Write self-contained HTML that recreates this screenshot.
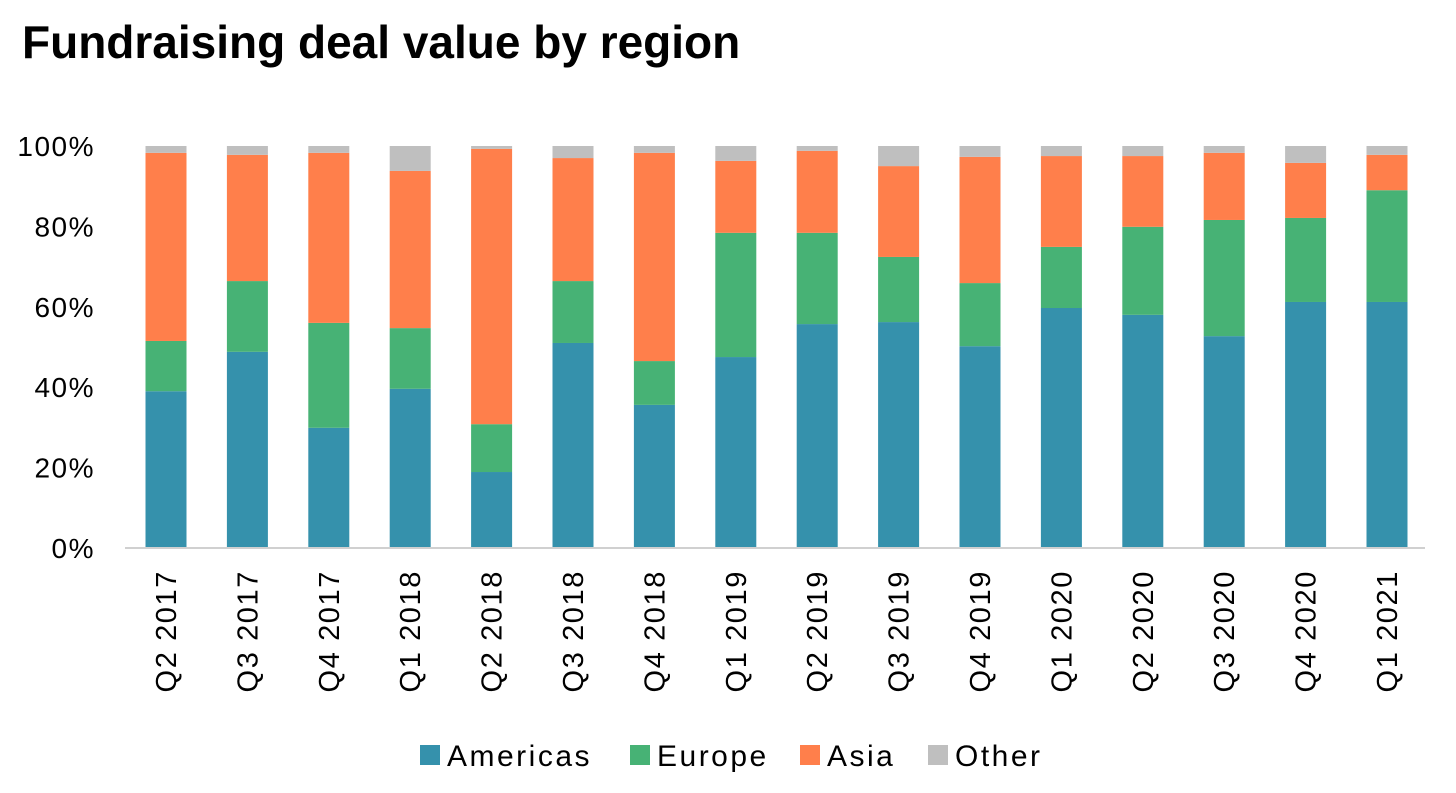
<!DOCTYPE html>
<html><head><meta charset="utf-8"><style>
body{margin:0;background:#fff;width:1456px;height:788px;overflow:hidden;font-family:"Liberation Sans",sans-serif}
</style></head><body>
<svg width="1456" height="788">
<text x="22" y="58" font-size="46" font-weight="bold" fill="#000">Fundraising deal value by region</text>
<g id="yaxis"></g>
<g id="bars"></g>
<line x1="125" y1="548" x2="1425" y2="548" stroke="#d0d0d0" stroke-width="2"/>
<g id="xaxis"></g>
<g id="legend"></g>
</svg>
<script>
const categories=["Q2 2017","Q3 2017","Q4 2017","Q1 2018","Q2 2018","Q3 2018","Q4 2018","Q1 2019","Q2 2019","Q3 2019","Q4 2019","Q1 2020","Q2 2020","Q3 2020","Q4 2020","Q1 2021"];
const americas=[39,48.8,29.9,39.6,18.9,51,35.6,47.5,55.7,56.2,50.2,59.7,58,52.7,61.2,61.2];
const europe=[12.5,17.6,26.1,15.1,11.9,15.4,10.9,30.9,22.7,16.2,15.7,15.2,21.9,28.9,20.9,27.8];
const asia=[46.8,31.4,42.3,39.1,68.5,30.6,51.8,17.9,20.4,22.6,31.4,22.6,17.6,16.7,13.7,8.8];
const other=[1.7,2.2,1.7,6.2,0.7,3,1.7,3.7,1.2,5,2.7,2.5,2.5,1.7,4.2,2.2];
const yTicks=[0,20,40,60,80,100];
const seriesNames=["Americas","Europe","Asia","Other"];
const colors=["#3591ac","#47b275","#ff7f4b","#bfbfbf"];
const NS="http://www.w3.org/2000/svg";
const y0=548,y1=146,x0=166,step=81.4,bw=41;
const yS=v=>y0-(v/100)*(y0-y1);
const xS=i=>x0+i*step;
function mk(t,a,p){const e=document.createElementNS(NS,t);for(const k in a)e.setAttribute(k,a[k]);p.appendChild(e);return e;}
const ya=document.getElementById('yaxis');
yTicks.forEach(v=>{const t=mk('text',{x:95,y:yS(v)+10,'font-size':28,'letter-spacing':1.5,'text-anchor':'end',fill:'#000'},ya);t.textContent=v+'%';

});
const bars=document.getElementById('bars');const series=[americas,europe,asia,other];
categories.forEach((c,i)=>{let acc=0;series.forEach((s,k)=>{const top=acc+s[i];
const r=mk('rect',{x:xS(i)-bw/2,y:yS(top),width:bw,height:yS(acc)-yS(top),fill:colors[k]},bars);

acc=top;});
const t=mk('text',{x:0,y:0,'font-size':29,'letter-spacing':1.6,'text-anchor':'end',fill:'#000',transform:`translate(${xS(i)+10},570) rotate(-90)`},document.getElementById('xaxis'));t.textContent=c;

});
const lg=document.getElementById('legend');const lx=[420,630,800,928];
seriesNames.forEach((n,k)=>{const g=mk('g',{},lg);


mk('rect',{x:lx[k],y:745,width:20,height:20,fill:colors[k]},g);
const t=mk('text',{x:lx[k]+27,y:766,'font-size':30,'letter-spacing':2.5,fill:'#000'},g);t.textContent=n;});
</script>
</body></html>
